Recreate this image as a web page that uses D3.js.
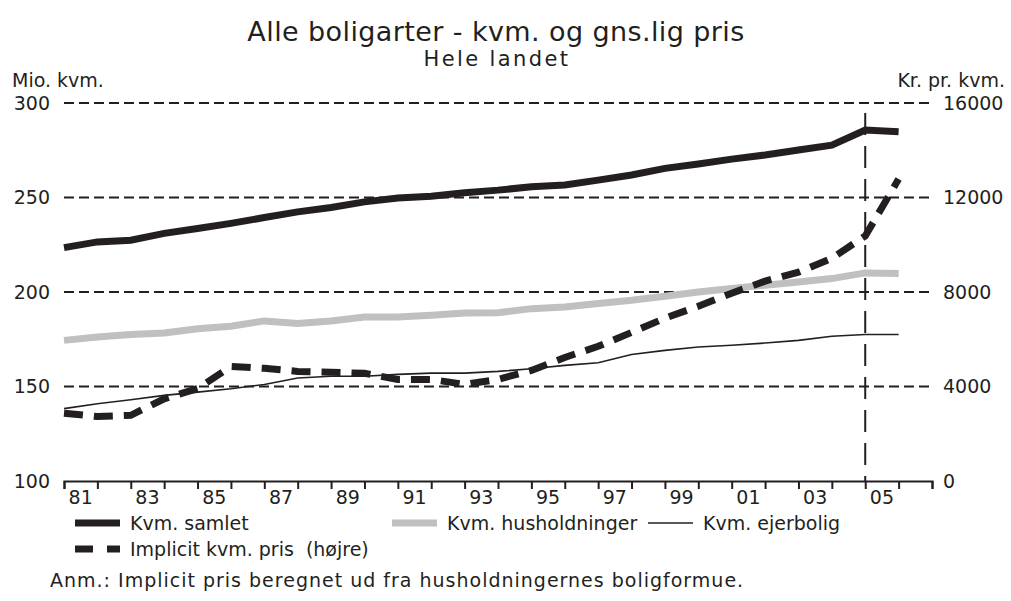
<!DOCTYPE html>
<html>
<head>
<meta charset="utf-8">
<script src="https://cdn.jsdelivr.net/npm/d3@7"></script>
<style>
  html, body { margin: 0; padding: 0; background: #fff; }
  svg { display: block; }
  text { font-family: "DejaVu Sans", Verdana, sans-serif; fill: #231f20; }
</style>
</head>
<body>
<svg id="chart" width="1011" height="601"></svg>
<script>
// ---- data ----
const years = [1981,1982,1983,1984,1985,1986,1987,1988,1989,1990,1991,1992,1993,
               1994,1995,1996,1997,1998,1999,2000,2001,2002,2003,2004,2005,2006];
const kvmSamlet = [223.5,226.5,227.4,231.0,233.6,236.3,239.4,242.4,244.7,247.7,249.7,250.7,252.5,
                   253.9,255.7,256.6,259.2,261.9,265.4,267.7,270.3,272.5,275.1,277.7,285.7,284.8];
const kvmHusholdninger = [174.4,176.2,177.5,178.3,180.6,181.9,184.7,183.3,184.7,186.8,186.8,187.7,188.9,
                          189.0,191.2,192.1,193.9,195.6,197.7,200.0,201.8,203.6,205.3,207.1,210.1,209.8];
const kvmEjerbolig = [138.3,140.9,143.0,145.3,147.0,148.8,151.1,154.5,155.4,155.4,156.4,157.1,157.1,
                      158.0,159.4,161.2,162.6,166.9,169.1,170.9,171.8,173.0,174.4,176.6,177.5,177.5];
const implicitPris = [2870,2730,2780,3480,3910,4850,4770,4640,4600,4560,4300,4300,4090,
                      4300,4680,5230,5700,6290,6890,7400,7950,8460,8840,9430,10370,12780];
const leftTicks = [100,150,200,250,300];
const rightTicks = [0,4000,8000,12000,16000];
const labelYears = [1981,1983,1985,1987,1989,1991,1993,1995,1997,1999,2001,2003,2005];
const labelText  = ["81","83","85","87","89","91","93","95","97","99","01","03","05"];
const markerYear = 2005;
const titleText = "Alle boligarter - kvm. og gns.lig pris";
const subtitleText = "Hele landet";
const leftUnit = "Mio. kvm.";
const rightUnit = "Kr. pr. kvm.";
const noteText = "Anm.: Implicit pris beregnet ud fra husholdningernes boligformue.";

// ---- layout ----
const INK = "#231f20", GRAY = "#c0c0c0";
const FONT = "DejaVu Sans, Verdana, sans-serif";
const L = 64, R = 932, T = 103, B = 481;
const svg = d3.select("#chart");

const xBand = d3.scaleBand().domain(years).range([L, R]).paddingInner(0).paddingOuter(0);
const xTick = d3.scaleLinear().domain([0, years.length]).range([L, R]);
const yL = d3.scaleLinear().domain([100, 300]).range([B, T]);
const yR = d3.scaleLinear().domain([0, 16000]).range([B, T]);

// title
svg.append("text").attr("x", 496).attr("y", 41).attr("text-anchor", "middle")
  .style("font-size", "27px").style("letter-spacing", "0.4px").text(titleText);
svg.append("text").attr("x", 497).attr("y", 66).attr("text-anchor", "middle")
  .style("font-size", "21px").style("letter-spacing", "2.4px").text(subtitleText);

// unit labels
svg.append("text").attr("x", 12).attr("y", 87).style("font-size", "19px").text(leftUnit);
svg.append("text").attr("x", 1005).attr("y", 87).attr("text-anchor", "end").style("font-size", "19px").text(rightUnit);

// gridlines
svg.append("g").selectAll("line").data(leftTicks.filter(d => d > 100)).join("line")
  .attr("x1", L).attr("x2", R).attr("y1", d => yL(d)).attr("y2", d => yL(d))
  .attr("stroke", INK).attr("stroke-width", 2).attr("stroke-dasharray", "10,5");

// left axis labels
const gl = svg.append("g").attr("transform", `translate(${L},0)`)
  .call(d3.axisLeft(yL).tickValues(leftTicks).tickSize(0).tickPadding(14).tickFormat(d3.format("d")));
gl.select(".domain").remove();
gl.selectAll("text").style("font-size", "19px").style("font-family", FONT).attr("fill", INK);

// right axis labels
const gr = svg.append("g").attr("transform", `translate(${R},0)`)
  .call(d3.axisRight(yR).tickValues(rightTicks).tickSize(0).tickPadding(11).tickFormat(d3.format("d")));
gr.select(".domain").remove();
gr.selectAll("text").style("font-size", "19px").style("font-family", FONT).attr("fill", INK);

// vertical marker line at 2005
svg.append("line").attr("x1", xBand(markerYear)).attr("x2", xBand(markerYear))
  .attr("y1", 113).attr("y2", B)
  .attr("stroke", INK).attr("stroke-width", 2).attr("stroke-dasharray", "22,11");

// x axis (ticks at year boundaries)
const gx = svg.append("g").attr("transform", `translate(0,${B})`)
  .call(d3.axisBottom(xTick).tickValues(d3.range(0, years.length + 1)).tickSize(8).tickSizeOuter(8).tickFormat(""));
gx.select(".domain").attr("stroke", INK).attr("stroke-width", 2);
gx.selectAll(".tick line").attr("stroke", INK).attr("stroke-width", 2);

// x labels centered in year bands
const gxl = svg.append("g").attr("transform", `translate(0,${B})`)
  .call(d3.axisBottom(xBand).tickValues(labelYears).tickSize(0).tickPadding(10)
    .tickFormat(d => labelText[labelYears.indexOf(d)]));
gxl.select(".domain").remove();
gxl.selectAll("text").style("font-size", "19px").style("font-family", FONT).attr("fill", INK);

// lines
const lineL = d3.line().x((d, i) => xBand(years[i])).y(d => yL(d));
const lineR = d3.line().x((d, i) => xBand(years[i])).y(d => yR(d));

svg.append("path").datum(kvmHusholdninger).attr("d", lineL)
  .attr("fill", "none").attr("stroke", GRAY).attr("stroke-width", 7);
svg.append("path").datum(kvmEjerbolig).attr("d", lineL)
  .attr("fill", "none").attr("stroke", INK).attr("stroke-width", 1.6);
svg.append("path").datum(kvmSamlet).attr("d", lineL)
  .attr("fill", "none").attr("stroke", INK).attr("stroke-width", 7);
svg.append("path").datum(implicitPris).attr("d", lineR)
  .attr("fill", "none").attr("stroke", INK).attr("stroke-width", 7).attr("stroke-dasharray", "19,11");

// legend
const leg = svg.append("g");
const items = [
  {x: 75, y: 523, label: "Kvm. samlet", stroke: INK, w: 7, dash: null},
  {x: 392, y: 523, label: "Kvm. husholdninger", stroke: GRAY, w: 7, dash: null},
  {x: 648, y: 523, label: "Kvm. ejerbolig", stroke: INK, w: 1.6, dash: null},
  {x: 75, y: 549, label: "Implicit kvm. pris  (højre)", stroke: INK, w: 7, dash: "18,14"}
];
items.forEach(it => {
  leg.append("line").attr("x1", it.x).attr("x2", it.x + 45).attr("y1", it.y).attr("y2", it.y)
    .attr("stroke", it.stroke).attr("stroke-width", it.w).attr("stroke-dasharray", it.dash);
  leg.append("text").attr("x", it.x + 55).attr("y", it.y + 7).style("font-size", "19px")
    .style("white-space", "pre").attr("xml:space", "preserve").text(it.label);
});

// note
svg.append("text").attr("x", 50).attr("y", 587).style("font-size", "19px")
  .style("letter-spacing", "1px").text(noteText);
</script>
</body>
</html>
